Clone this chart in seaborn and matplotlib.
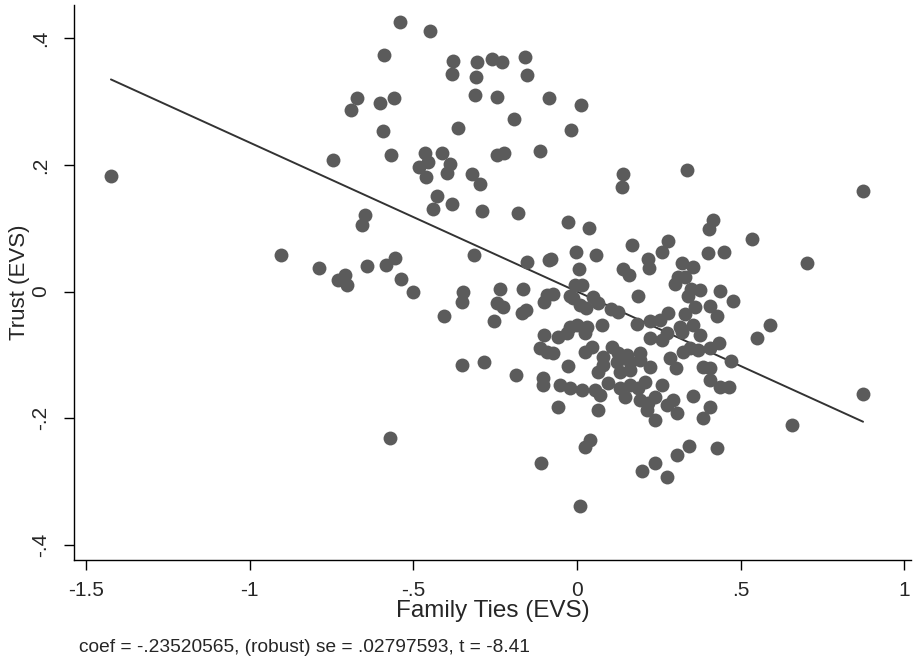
import numpy as np
import pandas as pd
import matplotlib
matplotlib.use("Agg")
import matplotlib.pyplot as plt
import seaborn as sns

# Added-variable plot: partial residuals of trust on family ties
family_ties = [
    -1.424, -0.905, -0.789, -0.730, -0.709, -0.703, -0.746, -0.691, -0.672, -0.657,
    -0.648, -0.642, -0.590, -0.602, -0.559, -0.593, -0.568, -0.584, -0.556, -0.538,
    -0.501, -0.572, -0.541, -0.449, -0.379, -0.382, -0.306, -0.309, -0.260, -0.229,
    -0.159, -0.153, -0.312, -0.245, -0.086, 0.012, -0.364, -0.193, -0.018, -0.465,
    -0.413, -0.455, -0.483, -0.461, -0.388, -0.397, -0.321, -0.296, -0.245, -0.223,
    -0.113, 0.141, 0.138, -0.428, -0.382, -0.440, -0.290, -0.180, -0.315, -0.153,
    -0.086, -0.348, -0.351, -0.235, -0.165, -0.245, -0.226, -0.168, -0.156, -0.101,
    -0.092, -0.073, -0.406, -0.254, 0.336, 0.874, -0.028, 0.037, 0.416, 0.403,
    0.168, 0.278, 0.260, -0.003, 0.058, -0.079, 0.400, 0.217, 0.220, 0.141,
    0.159, 0.321, 0.355, 0.006, 0.330, 0.309, 0.300, -0.006, 0.015, 0.348,
    0.376, 0.437, -0.021, -0.012, 0.009, 0.049, 0.064, 0.028, 0.186, 0.339,
    0.104, 0.125, 0.361, 0.406, 0.330, 0.278, 0.428, 0.076, 0.183, 0.223,
    0.254, -0.021, 0.000, 0.355, 0.315, 0.031, 0.535, 0.449, 0.703, 0.477,
    0.590, -0.101, -0.113, -0.092, -0.073, -0.351, -0.284, -0.186, -0.104, -0.104,
    -0.110, -0.058, -0.031, 0.024, 0.223, 0.260, 0.275, 0.321, 0.376, 0.324,
    0.345, 0.370, 0.406, 0.434, 0.024, 0.046, 0.107, 0.125, 0.153, 0.193,
    0.079, 0.079, 0.122, 0.162, 0.193, -0.028, 0.223, 0.284, 0.303, 0.385,
    0.406, 0.064, 0.131, 0.162, -0.052, -0.021, 0.015, 0.055, 0.070, 0.095,
    0.131, 0.162, 0.186, 0.208, 0.147, 0.193, 0.217, 0.238, 0.260, 0.406,
    0.437, 0.293, 0.275, 0.306, 0.214, 0.238, 0.355, 0.406, 0.385, -0.058,
    0.064, 0.040, 0.024, 0.342, 0.306, 0.428, 0.238, 0.199, 0.550, 0.471,
    0.465, 0.874, 0.657, 0.275, 0.009,
]
trust = [
    0.182, 0.058, 0.037, 0.018, 0.026, 0.010, 0.207, 0.286, 0.305, 0.105,
    0.121, 0.040, 0.373, 0.297, 0.305, 0.253, 0.215, 0.042, 0.053, 0.020,
    -0.001, -0.231, 0.425, 0.411, 0.364, 0.343, 0.362, 0.338, 0.367, 0.362,
    0.370, 0.342, 0.310, 0.307, 0.305, 0.294, 0.258, 0.272, 0.255, 0.219,
    0.219, 0.204, 0.196, 0.181, 0.201, 0.187, 0.185, 0.170, 0.215, 0.219,
    0.222, 0.185, 0.165, 0.151, 0.138, 0.130, 0.127, 0.124, 0.058, 0.047,
    0.050, -0.001, -0.017, 0.004, 0.004, -0.018, -0.024, -0.034, -0.029, -0.017,
    -0.006, -0.004, -0.039, -0.047, 0.192, 0.159, 0.110, 0.100, 0.113, 0.099,
    0.073, 0.080, 0.062, 0.062, 0.058, 0.051, 0.061, 0.051, 0.037, 0.036,
    0.026, 0.045, 0.039, 0.036, 0.023, 0.023, 0.012, 0.010, 0.010, 0.004,
    0.002, 0.001, -0.007, -0.010, -0.021, -0.009, -0.018, -0.026, -0.007, -0.007,
    -0.028, -0.032, -0.024, -0.023, -0.036, -0.034, -0.039, -0.053, -0.051, -0.047,
    -0.045, -0.056, -0.053, -0.053, -0.056, -0.056, 0.083, 0.062, 0.045, -0.015,
    -0.053, -0.069, -0.089, -0.095, -0.097, -0.116, -0.111, -0.132, -0.136, -0.148,
    -0.271, -0.072, -0.065, -0.065, -0.073, -0.077, -0.065, -0.064, -0.069, -0.095,
    -0.089, -0.092, -0.089, -0.081, -0.095, -0.088, -0.088, -0.097, -0.100, -0.097,
    -0.103, -0.116, -0.111, -0.111, -0.108, -0.118, -0.119, -0.105, -0.121, -0.119,
    -0.121, -0.127, -0.127, -0.124, -0.148, -0.152, -0.155, -0.155, -0.163, -0.144,
    -0.152, -0.148, -0.152, -0.143, -0.166, -0.171, -0.176, -0.166, -0.148, -0.140,
    -0.151, -0.171, -0.179, -0.192, -0.187, -0.203, -0.165, -0.182, -0.200, -0.182,
    -0.187, -0.234, -0.245, -0.244, -0.258, -0.247, -0.271, -0.283, -0.073, -0.110,
    -0.151, -0.162, -0.211, -0.293, -0.338,
]

coef = -0.23520565
se = 0.02797593
t_stat = -8.41

x_ticks = [-1.5, -1, -0.5, 0, 0.5, 1]
x_tick_labels = ["-1.5", "-1", "-.5", "0", ".5", "1"]
y_ticks = [-0.4, -0.2, 0, 0.2, 0.4]
y_tick_labels = ["-.4", "-.2", "0", ".2", ".4"]

df = pd.DataFrame({"Family Ties (EVS)": family_ties, "Trust (EVS)": trust})

# fitted line through the mean of the residuals with the reported slope
x_line = np.array([df["Family Ties (EVS)"].min(), df["Family Ties (EVS)"].max()])
fit = pd.DataFrame({"x": x_line, "y": coef * x_line})

sns.set_theme(style="white")
plt.rcParams["font.family"] = ["Liberation Sans", "DejaVu Sans"]

fig = plt.figure(figsize=(9.13, 6.62), dpi=100)
ax = fig.add_axes([0.081, 0.154, 0.917, 0.838])

sns.scatterplot(data=df, x="Family Ties (EVS)", y="Trust (EVS)", ax=ax,
                color="#5b5b5b", s=100, linewidth=0, alpha=1, zorder=3)
sns.lineplot(data=fit, x="x", y="y", ax=ax, color="#333333", linewidth=1.4,
             zorder=2)

ax.set_xlim(-1.537, 1.021)
ax.set_ylim(-0.424, 0.452)
ax.set_xticks(x_ticks)
ax.set_xticklabels(x_tick_labels)
ax.set_yticks(y_ticks)
ax.set_yticklabels(y_tick_labels, rotation=90, va="center")

ax.tick_params(axis="both", which="both", direction="out", length=7, width=1,
               color="#000000", labelsize=15, bottom=True, left=True)
ax.tick_params(axis="x", pad=8)
ax.tick_params(axis="y", pad=10)
ax.set_xlabel("Family Ties (EVS)", fontsize=17.5, labelpad=0)
ax.set_ylabel("Trust (EVS)", fontsize=16, labelpad=1)

for side in ["left", "bottom"]:
    ax.spines[side].set_color("#000000")
    ax.spines[side].set_linewidth(1)
ax.spines["top"].set_visible(False)
ax.spines["right"].set_visible(False)

fig.text(0.087, 0.022, f"coef = {coef:.8f}".replace("0.", ".", 1)
         + f", (robust) se = {se:.8f}".replace("0.", ".", 1)
         + f", t = {t_stat:.2f}",
         fontsize=13.8, ha="left", va="center")

fig.savefig("out.png", dpi=100, facecolor="white")
